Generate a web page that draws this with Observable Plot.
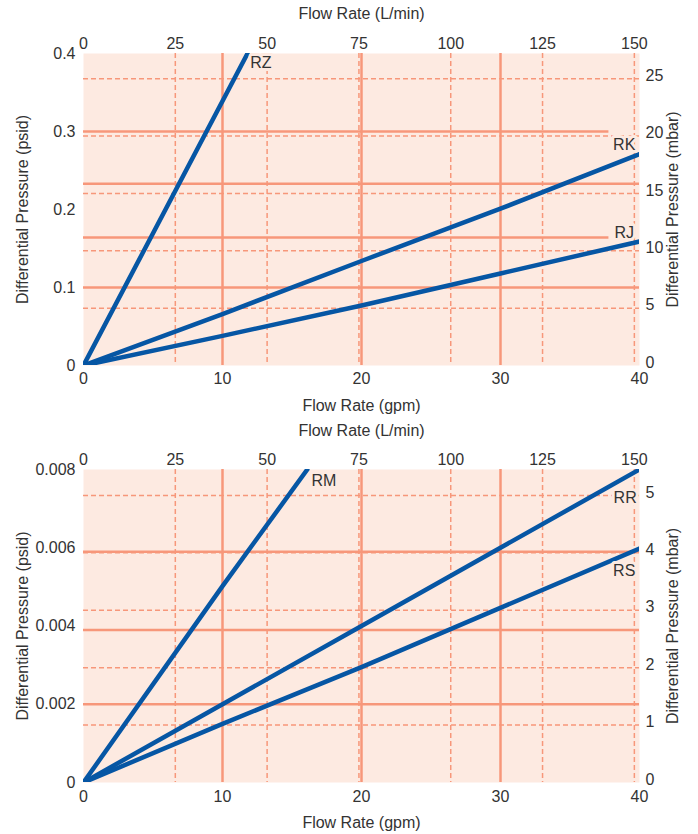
<!DOCTYPE html>
<html><head><meta charset="utf-8">
<script src="https://cdn.jsdelivr.net/npm/d3@7"></script>
<script src="https://cdn.jsdelivr.net/npm/@observablehq/plot@0.6"></script>
<style>body{margin:0;background:#fff;} #chart svg{display:block}</style>
</head><body><div id="chart"></div>
<script>
// ---- shared ----
const LPM_PER_GPM = 3.785;
const gpmTicks = [0, 10, 20, 30, 40];
const lpmTicks = [0, 25, 50, 75, 100, 125, 150];
const solidGpmLines = [10, 20, 30];
const xTitleTop = "Flow Rate (L/min)";
const xTitleBottom = "Flow Rate (gpm)";
const yTitleLeft = "Differential Pressure (psid)";
const yTitleRight = "Differential Pressure (mbar)";

// ---- chart 1 ----
const c1PsidTicks = [0, 0.1, 0.2, 0.3, 0.4];
const c1MbarTicks = [0, 5, 10, 15, 20, 25];
const c1MbarPerPsid = 68;
const c1SolidPsid = [0.1, 0.164, 0.233, 0.3];
const c1SolidEndGpm = [40, 37.8, 40, 37.8];
const c1SeriesNames = ["RZ", "RK", "RJ"];
const c1SeriesGpm = [[0, 11.8], [0, 10, 20, 30, 40], [0, 10, 20, 30, 40]];
const c1SeriesPsid = [[0, 0.4], [0, 0.066, 0.134, 0.201, 0.271], [0, 0.038, 0.077, 0.118, 0.159]];
const c1LabelGpm = [12.0, 39.7, 39.6];
const c1LabelPsid = [0.388, 0.283, 0.170];
const c1LabelAnchor = ["start", "end", "end"];

// ---- chart 2 ----
const c2PsidTicks = [0, 0.002, 0.004, 0.006, 0.008];
const c2MbarTicks = [0, 1, 2, 3, 4, 5];
const c2MbarPerPsid = 681.5;
const c2SolidPsid = [0.002, 0.0039, 0.0059];
const c2SolidEndGpm = [40, 40, 40];
const c2SeriesNames = ["RM", "RR", "RS"];
const c2SeriesGpm = [[0, 10, 16.1], [0, 10, 20, 40], [0, 10, 20, 40]];
const c2SeriesPsid = [[0, 0.00502, 0.008], [0, 0.002, 0.004, 0.008], [0, 0.0015, 0.00295, 0.00598]];
const c2LabelGpm = [16.4, 39.8, 39.7];
const c2LabelPsid = [0.0077, 0.00728, 0.00541];
const c2LabelAnchor = ["start", "end", "end"];

const BG = "#fdeae1";
const GRID = "#f7977a";
const BLUE = "#0656a4";
const TXT = "#333";
const FS = 16;

function makeChart(o) {
  const rows = [];
  o.names.forEach((n, i) => o.gpm[i].forEach((g, j) => rows.push({name: n, gpm: g, psid: o.psid[i][j]})));
  const labels = o.names.map((n, i) => ({name: n, gpm: o.labelGpm[i], psid: o.labelPsid[i], anchor: o.labelAnchor[i]}));
  const solid = o.solid.map((p, i) => ({psid: p, end: o.solidEnd[i]}));
  const f = o.mbarPerPsid;
  const ts = {fill: TXT, fontSize: FS};
  return Plot.plot({
    width: 698,
    height: o.height,
    marginTop: o.mt, marginBottom: o.mb, marginLeft: 83, marginRight: 59,
    style: {fontSize: FS + "px", fontFamily: "Liberation Sans, Arial, sans-serif", color: TXT, background: "white"},
    x: {domain: [0, 40], axis: null},
    y: {domain: [0, o.psidTicks[o.psidTicks.length - 1]], axis: null},
    marks: [
      Plot.frame({fill: BG, stroke: null}),
      Plot.ruleY(o.mbarTicks.filter(m => m > 0).map(m => m / f), {stroke: GRID, strokeWidth: 1.5, strokeDasharray: "5,3"}),
      Plot.ruleX(lpmTicks.filter(l => l > 0).map(l => l / LPM_PER_GPM), {stroke: GRID, strokeWidth: 1.5, strokeDasharray: "5,3"}),
      Plot.ruleX(solidGpmLines, {stroke: GRID, strokeWidth: 2.5}),
      Plot.ruleY(solid, {y: "psid", x1: 0, x2: "end", stroke: GRID, strokeWidth: 2.5}),
      Plot.line(rows, {x: "gpm", y: "psid", z: "name", stroke: BLUE, strokeWidth: 4.5, clip: true}),
      Plot.text(labels.filter(d => d.anchor === "start"), {x: "gpm", y: "psid", text: "name", textAnchor: "start", stroke: BG, strokeWidth: 6, ...ts}),
      Plot.text(labels.filter(d => d.anchor === "end"), {x: "gpm", y: "psid", text: "name", textAnchor: "end", stroke: BG, strokeWidth: 6, ...ts}),
      Plot.axisX({anchor: "bottom", ticks: gpmTicks, tickSize: 0, tickPadding: o.bottomPad, label: null, fontSize: FS}),
      Plot.axisX({anchor: "top", ticks: lpmTicks.map(l => l / LPM_PER_GPM), tickFormat: d => String(Math.round(d * LPM_PER_GPM)), tickSize: 0, tickPadding: 5, label: null, fontSize: FS}),
      Plot.axisY({anchor: "left", ticks: o.psidTicks, tickFormat: d => String(+d.toFixed(3)), tickSize: 0, tickPadding: 8, label: null, fontSize: FS}),
      Plot.axisY({anchor: "right", ticks: o.mbarTicks.map(m => m / f), tickFormat: d => String(Math.round(d * f)), tickSize: 0, tickPadding: 6, dy: -3, label: null, fontSize: FS}),
      Plot.text([xTitleTop], {text: d => d, frameAnchor: "top", lineAnchor: "middle", textAnchor: "middle", dy: o.topTitleDy, ...ts}),
      Plot.text([xTitleBottom], {text: d => d, frameAnchor: "bottom", lineAnchor: "middle", textAnchor: "middle", dy: o.bottomTitleDy, ...ts}),
      Plot.text([yTitleLeft], {text: d => d, frameAnchor: "left", lineAnchor: "middle", textAnchor: "middle", dx: -61, rotate: -90, ...ts}),
      Plot.text([yTitleRight], {text: d => d, frameAnchor: "right", lineAnchor: "middle", textAnchor: "middle", dx: 33, rotate: -90, ...ts})
    ]
  });
}

const el = document.getElementById("chart");
el.append(makeChart({
  height: 420, mt: 53, mb: 55, bottomPad: 7,
  psidTicks: c1PsidTicks, mbarTicks: c1MbarTicks, mbarPerPsid: c1MbarPerPsid,
  solid: c1SolidPsid, solidEnd: c1SolidEndGpm,
  names: c1SeriesNames, gpm: c1SeriesGpm, psid: c1SeriesPsid,
  labelGpm: c1LabelGpm, labelPsid: c1LabelPsid, labelAnchor: c1LabelAnchor,
  topTitleDy: -40, bottomTitleDy: 40
}));
el.append(makeChart({
  height: 414, mt: 49, mb: 52, bottomPad: 8,
  psidTicks: c2PsidTicks, mbarTicks: c2MbarTicks, mbarPerPsid: c2MbarPerPsid,
  solid: c2SolidPsid, solidEnd: c2SolidEndGpm,
  names: c2SeriesNames, gpm: c2SeriesGpm, psid: c2SeriesPsid,
  labelGpm: c2LabelGpm, labelPsid: c2LabelPsid, labelAnchor: c2LabelAnchor,
  topTitleDy: -39, bottomTitleDy: 40
}));
</script></body></html>
